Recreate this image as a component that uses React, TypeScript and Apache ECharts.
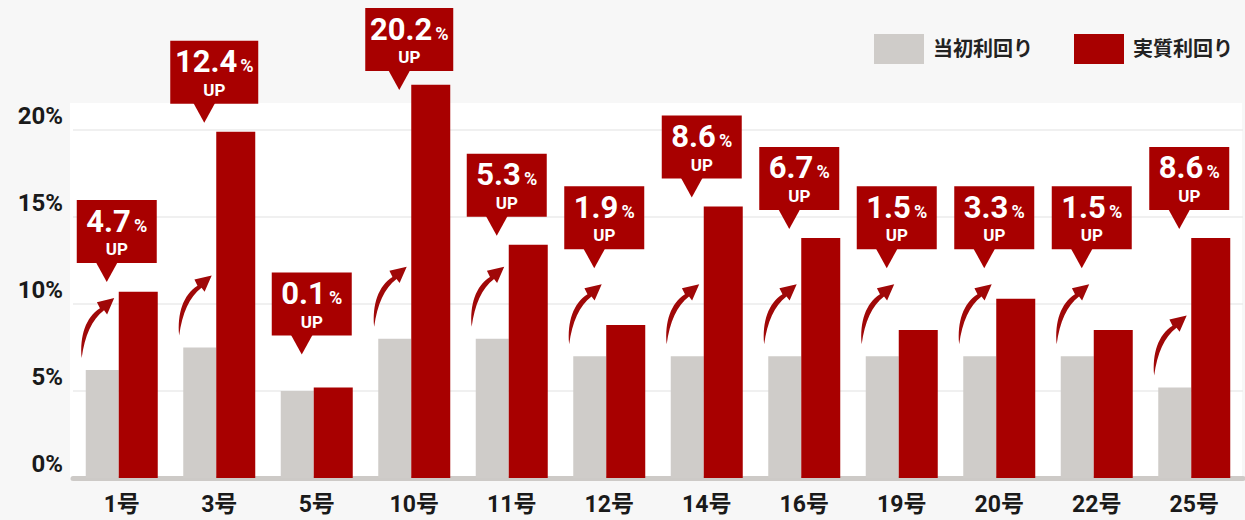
import React, { useEffect, useRef } from "react";
import * as echarts from "echarts";

const categories = ["1号", "3号", "5号", "10号", "11号", "12号", "14号", "16号", "19号", "20号", "22号", "25号"];
const initialYield = [6.2, 7.5, 5.0, 8.0, 8.0, 7.0, 7.0, 7.0, 7.0, 7.0, 7.0, 5.2];
const actualYield = [10.7, 19.9, 5.2, 22.6, 13.4, 8.8, 15.6, 13.8, 8.5, 10.3, 8.5, 13.8];
const upLabels = ["4.7", "12.4", "0.1", "20.2", "5.3", "1.9", "8.6", "6.7", "1.5", "3.3", "1.5", "8.6"];
const seriesNames = ["当初利回り", "実質利回り"];
const yMin = 0;
const yMax = 20;
const yInterval = 5;

const RED = "#a80000";
const GREY = "#cfccc9";
const FONT = "Roboto, 'Noto Sans CJK JP', sans-serif";
const ARROW_PATH =
  "M2,62 C0,40 6,22 20,13 L17,7 L34,3 L27,19 L24,15 C12,24 5,40 2,62 Z";

export default function App() {
  const ref = useRef<HTMLDivElement>(null);

  useEffect(() => {
    document.body.style.margin = "0";
    const chart = echarts.init(ref.current!, null, { renderer: "svg" });

    const customData = categories.map((_, i) => [i, initialYield[i], actualYield[i]]);

    const option: any = {
      animation: false,
      backgroundColor: "#f7f7f7",
      textStyle: { fontFamily: FONT },
      graphic: [
        {
          type: "rect",
          z: -10,
          silent: true,
          shape: { x: 70, y: 103, width: 1172, height: 376 },
          style: { fill: "#ffffff" },
        },
      ],
      legend: {
        data: seriesNames,
        right: 12,
        top: 34,
        padding: 0,
        icon: "rect",
        itemWidth: 50,
        itemHeight: 30,
        itemGap: 41,
        textStyle: {
          fontFamily: FONT,
          fontSize: 20,
          fontWeight: "bold",
          color: "#222",
          padding: [0, 0, 0, 4],
        },
      },
      grid: { left: 73, right: 2, top: 130, bottom: 42, containLabel: false },
      xAxis: {
        type: "category",
        data: categories,
        axisLine: { lineStyle: { color: "#cdcac7", width: 5 } },
        axisTick: { show: false },
        axisLabel: {
          fontFamily: FONT,
          fontSize: 23,
          fontWeight: "bold",
          color: "#1a1a1a",
          margin: 15,
        },
      },
      yAxis: {
        type: "value",
        min: yMin,
        max: yMax,
        interval: yInterval,
        axisLine: { show: false },
        axisTick: { show: false },
        splitLine: { lineStyle: { color: "#ebebeb", width: 1.5 } },
        axisLabel: {
          formatter: "{value}%",
          fontFamily: FONT,
          fontSize: 24,
          fontWeight: "bold",
          color: "#1a1a1a",
          margin: 10,
          verticalAlign: "bottom",
          padding: [0, 0, 2, 0],
        },
      },
      series: [
        {
          name: seriesNames[0],
          type: "bar",
          data: initialYield,
          barWidth: 33,
          barGap: "0%",
          itemStyle: { color: GREY },
          clip: false,
        },
        {
          name: seriesNames[1],
          type: "bar",
          data: actualYield,
          barWidth: 39,
          barGap: "0%",
          itemStyle: { color: RED },
          clip: false,
        },
        {
          name: "callouts",
          type: "custom",
          data: customData,
          encode: { x: 0, y: 2 },
          clip: false,
          z: 10,
          renderItem: (params: any, api: any) => {
            const i = api.value(0);
            const g = api.value(1);
            const r = api.value(2);
            const gp = api.coord([i, g]);
            const rp = api.coord([i, r]);
            const cx = gp[0];
            const gy = gp[1];
            const ry = rp[1];
            const hasArrow = r - g >= 0.5;
            const label = upLabels[i];
            const boxW = label.length > 3 ? 88 : 80;
            const boxH = 63;
            let bottom = hasArrow ? Math.min(ry - 28, gy - 107) : ry - 52;
            let top = bottom - boxH;
            if (top < 8) {
              top = 8;
              bottom = top + boxH;
            }
            const bcx = cx - 5;
            const tipX = cx - 15;
            const children: any[] = [
              {
                type: "rect",
                shape: { x: bcx - boxW / 2, y: top, width: boxW, height: boxH },
                style: { fill: RED },
              },
              {
                type: "polygon",
                shape: {
                  points: [
                    [tipX - 11, bottom - 1],
                    [tipX + 11, bottom - 1],
                    [tipX, bottom + 19],
                  ],
                },
                style: { fill: RED },
              },
              {
                type: "text",
                x: bcx,
                y: top + 21,
                style: {
                  text: `{n|${label}}{p|%}`,
                  align: "center",
                  verticalAlign: "middle",
                  rich: {
                    n: {
                      fontFamily: FONT,
                      fontSize: 31,
                      fontWeight: "bold",
                      fill: "#fff",
                      color: "#fff",
                      lineHeight: 26,
                    },
                    p: {
                      fontFamily: FONT,
                      fontSize: 18,
                      fontWeight: "bold",
                      fill: "#fff",
                      color: "#fff",
                      lineHeight: 26,
                      verticalAlign: "bottom",
                      padding: [0, 0, 0, 3],
                    },
                  },
                },
              },
              {
                type: "text",
                x: bcx,
                y: top + 49,
                style: {
                  text: "UP",
                  align: "center",
                  verticalAlign: "middle",
                  fontFamily: FONT,
                  fontSize: 17,
                  lineHeight: 17,
                  fontWeight: "bold",
                  fill: "#fff",
                },
              },
            ];
            if (hasArrow) {
              children.push({
                type: "path",
                shape: {
                  pathData: ARROW_PATH,
                  x: cx - 41,
                  y: gy - 72,
                  width: 34,
                  height: 60,
                },
                style: { fill: "#a00808" },
              });
            }
            return { type: "group", children };
          },
        },
      ],
    };

    chart.setOption(option);
    return () => {
      chart.dispose();
    };
  }, []);

  return <div ref={ref} style={{ width: 1245, height: 520, background: "#f7f7f7" }} />;
}
